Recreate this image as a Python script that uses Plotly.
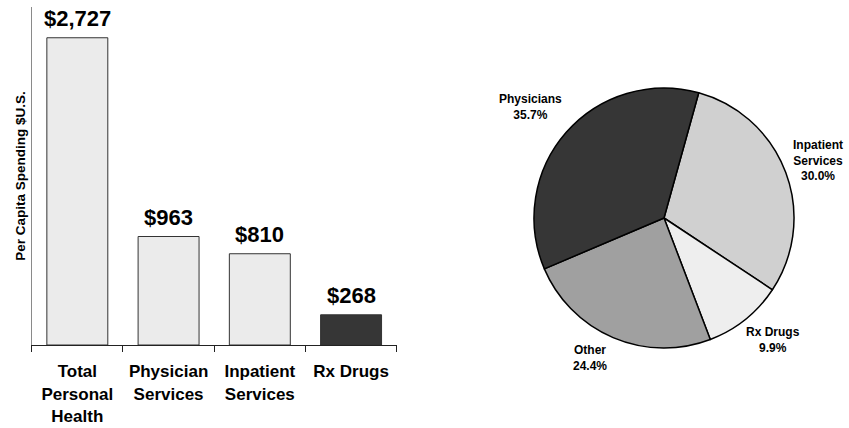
import plotly.graph_objects as go

W, H = 849, 428

# ---- data ----
bar_categories = ["Total<br>Personal<br>Health", "Physician<br>Services", "Inpatient<br>Services", "Rx Drugs"]
bar_values = [2727, 963, 810, 268]
bar_value_labels = ["$2,727", "$963", "$810", "$268"]

pie_labels = ["Inpatient<br>Services", "Rx Drugs", "Other", "Physicians"]
pie_values = [30.0, 9.9, 24.4, 35.7]

y_title = "Per Capita Spending $U.S."

# ---- styles ----
FONT = "Liberation Sans, Arial, Helvetica, sans-serif"
bar_colors = ["#ebebeb", "#ebebeb", "#ebebeb", "#363636"]
pie_colors = ["#d0d0d0", "#eeeeee", "#a0a0a0", "#363636"]


def px_x(x):
    return x / W


def px_y(y):
    return (H - y) / H


fig = go.Figure()

fig.add_trace(go.Bar(
    x=bar_categories, y=bar_values,
    marker=dict(color=bar_colors, line=dict(color="#333333", width=1)),
    width=0.668, showlegend=False, hoverinfo="skip",
    xaxis="x", yaxis="y",
))

fig.add_trace(go.Pie(
    labels=pie_labels, values=pie_values,
    marker=dict(colors=pie_colors, line=dict(color="#000000", width=1.5)),
    sort=False, direction="clockwise", rotation=15.5,
    textinfo="none", showlegend=False, hoverinfo="skip",
    domain=dict(x=[px_x(534), px_x(794)], y=[px_y(348), px_y(88)]),
))

annotations = []
for cat, val, lab in zip(bar_categories, bar_values, bar_value_labels):
    annotations.append(dict(
        x=cat, y=val, xref="x", yref="y", text=lab, showarrow=False,
        yanchor="middle", yshift=19.5,
        font=dict(family=FONT, size=22, color="#000000", weight="bold"),
    ))

# pie labels (text from data)
pie_label_pos = [(818, 161), (773, 340), (590, 358), (530, 107.5)]
for lab, val, (lx, ly) in zip(pie_labels, pie_values, pie_label_pos):
    annotations.append(dict(
        x=px_x(lx), y=px_y(ly), xref="paper", yref="paper",
        text=f"{lab}<br>{val:.1f}%", showarrow=False,
        xanchor="center", yanchor="middle", align="center",
        font=dict(family=FONT, size=12, color="#000000", weight="bold"),
    ))

fig.update_layout(
    width=W, height=H,
    margin=dict(l=0, r=0, t=0, b=0),
    paper_bgcolor="#ffffff", plot_bgcolor="#ffffff",
    font=dict(family=FONT, color="#000000"),
    xaxis=dict(
        domain=[px_x(31.7), px_x(396.7)],
        showline=True, linecolor="#222222", linewidth=1,
        ticks="outside", ticklen=6, tickcolor="#222222", tickwidth=1,
        tickson="boundaries", showgrid=False, zeroline=False,
        tickfont=dict(family=FONT, size=17, color="#000000", weight="bold"),
        ticklabelstandoff=11,
    ),
    yaxis=dict(
        domain=[px_y(345), px_y(7)],
        range=[0, 3000],
        showline=True, linecolor="#8a8a8a", linewidth=1,
        showticklabels=False, ticks="", showgrid=False, zeroline=False,
        title=dict(text=y_title, standoff=1,
                   font=dict(family=FONT, size=13.5, color="#000000", weight="bold")),
    ),
    annotations=annotations,
)

fig.write_html(
    "out.html",
    config={"displayModeBar": False, "staticPlot": True},
    post_script="document.body.style.margin='0';document.body.style.overflow='hidden';",
)
